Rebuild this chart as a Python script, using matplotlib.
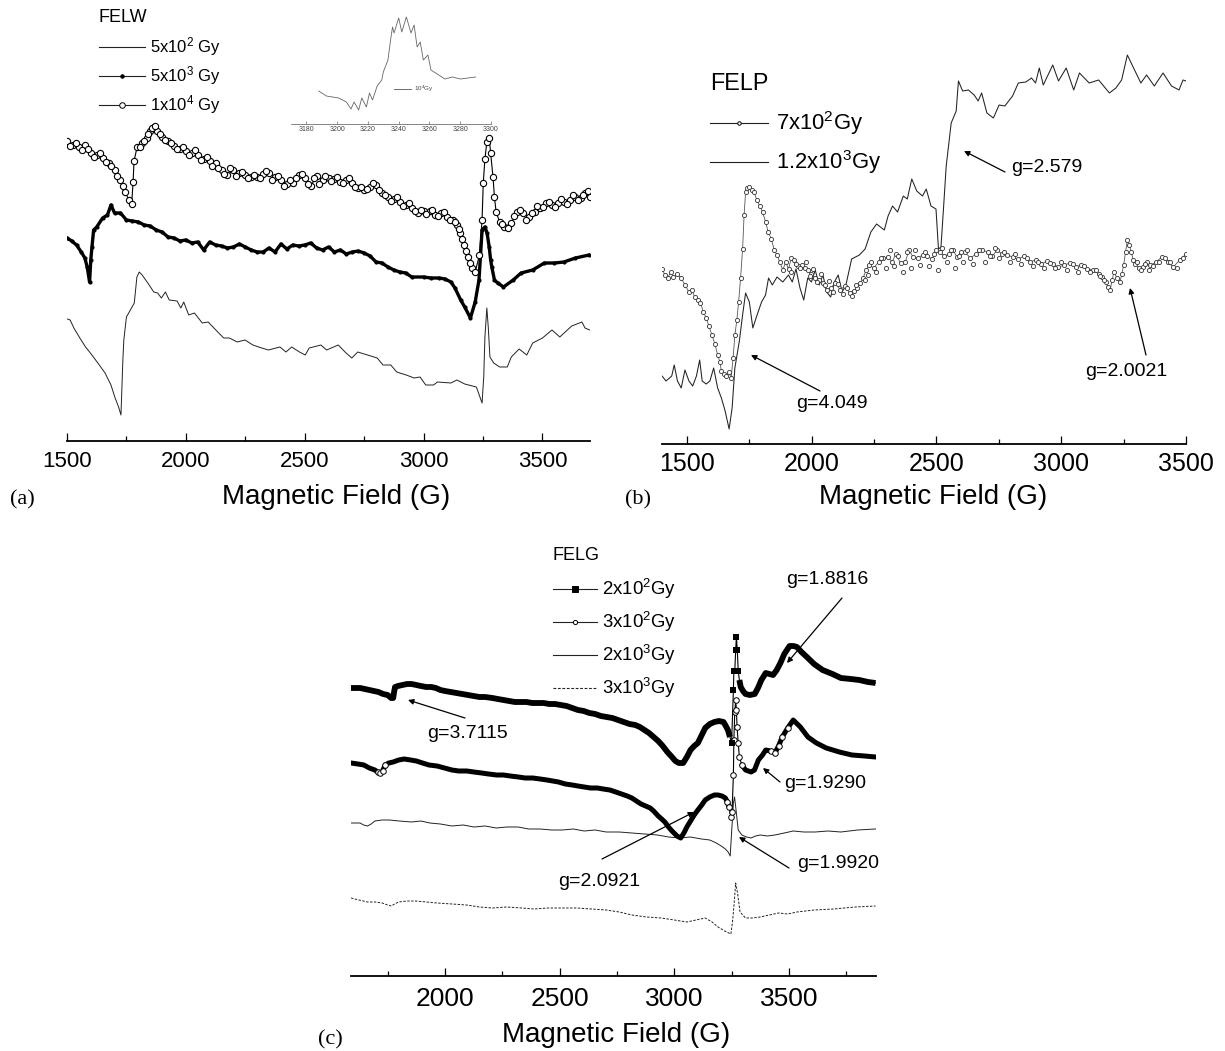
import matplotlib
matplotlib.use('Agg')
import matplotlib.pyplot as plt
from matplotlib.lines import Line2D
from matplotlib.patches import FancyArrowPatch

plt.rcParams['font.family'] = ['Liberation Sans', 'DejaVu Sans']
plt.rcParams['mathtext.default'] = 'regular'

W, H = 1225, 1051

# no intensity axis in the figure: signals are read as rows on the page (larger = lower)

# ---- panel a, FELW
a_f_5e2 = [1502,1513,1529,1554,1578,1595,1611,1636,1660,1685,1701,1717,1727,1735,1739,1750,1783,1794,1804,1816,1840,1865,1881,1897,1914,1930,1963,1979,1991,2012,2036,2069,2094,2126,2159,2183,2216,2249,2282,2306,2347,2396,2421,2445,2478,2502,2519,2568,2592,2641,2674,2698,2723,2764,2805,2829,2862,2887,2927,2960,2985,3009,3042,3058,3115,3140,3173,3222,3246,3253,3258,3266,3272,3279,3295,3320,3352,3369,3402,3434,3459,3500,3540,3573,3623,3666,3679,3699]
a_s_5e2 = [319,320,328,338,347,352,357,365,373,385,397,407,415,360,340,317,303,277,272,275,283,292,293,298,292,300,301,308,302,315,313,323,322,330,338,338,342,340,345,347,350,347,352,347,352,355,348,345,350,345,353,358,352,355,358,365,365,372,375,378,377,385,385,382,383,380,384,387,403,377,337,308,327,357,363,367,367,357,349,355,343,338,330,337,326,322,328,330]

a_f_5e3 = [1500,1520,1540,1560,1575,1585,1595,1600,1605,1612,1625,1650,1670,1685,1700,1725,1750,1775,1800,1825,1850,1875,1900,1925,1950,1975,2000,2025,2050,2075,2100,2125,2150,2175,2200,2225,2250,2275,2300,2325,2350,2375,2400,2425,2450,2475,2500,2525,2550,2575,2600,2625,2650,2675,2700,2725,2750,2775,2800,2825,2850,2875,2900,2925,2950,3001,3030,3066,3090,3115,3132,3156,3173,3197,3217,3233,3246,3258,3267,3276,3282,3287,3298,3312,3336,3377,3410,3459,3508,3550,3590,3639,3696]
a_s_5e3 = [238,241,245,252,258,267,282,260,247,230,227,218,215,205,213,213,220,221,222,225,226,230,232,237,238,241,240,243,242,250,242,245,246,248,247,244,247,250,252,252,248,252,244,249,245,246,245,243,248,250,247,252,250,254,252,251,253,256,262,263,267,270,272,273,277,277,278,278,279,282,288,300,307,318,302,280,230,227,233,247,260,267,280,283,287,280,273,270,263,263,262,258,255]

a_f_1e4 = [1500,1525,1550,1575,1600,1625,1650,1675,1700,1725,1745,1760,1772,1778,1782,1795,1815,1835,1850,1865,1880,1900,1925,1950,1975,2000,2025,2050,2075,2100,2125,2150,2175,2200,2225,2250,2275,2300,2325,2350,2375,2400,2425,2450,2475,2500,2525,2550,2575,2600,2625,2650,2675,2700,2725,2750,2775,2800,2825,2850,2875,2900,2925,2950,2975,3000,3025,3050,3075,3100,3125,3141,3155,3169,3186,3205,3217,3235,3246,3251,3258,3266,3276,3282,3292,3298,3305,3320,3339,3369,3393,3418,3442,3467,3491,3516,3540,3565,3590,3614,3639,3663,3680,3699]
a_s_1e4 = [141,145,147,145,153,155,158,163,170,180,192,200,204,182,161,147,143,138,131,127,131,137,141,146,149,151,153,155,159,161,163,170,175,170,173,175,177,177,174,173,177,180,184,183,175,178,186,176,180,178,179,182,180,183,188,190,187,185,193,197,199,202,205,208,213,211,211,215,213,217,220,225,233,245,257,268,272,255,220,183,159,142,138,153,177,197,212,222,227,223,212,213,217,212,208,203,205,203,202,200,197,198,193,197]

# in-between marks of the same trace, they overlap the rings above
a_f_1e4_extra = [1512,1537,1562,1587,1612,1637,1662,1687,1712,1735,1807,1825,1842,1857,1872,1890,1912,1937,1962,1987,2012,2037,2062,2087,2112,2137,2162,2187,2212,2237,2262,2287,2312,2337,2362,2387,2412,2437,2462,2487,2512,2537,2562,2587,2612,2637,2662,2687,2712,2737,2762,2787,2812,2837,2862,2887,2912,2937,2962,2987,3012,3037,3062,3087,3112,3133,3148,3162,3178,3195,3330,3354,3381,3405,3430,3455,3479,3503,3528,3552,3577,3602,3627,3651,3671,3690]
a_s_1e4_extra = [146,143,150,149,157,153,162,166,176,186,147,141,134,128,126,134,140,143,149,147,155,150,160,157,166,168,174,168,176,172,178,175,178,171,180,176,186,180,178,174,184,178,184,176,181,177,183,178,187,187,189,183,190,195,201,197,206,203,211,210,214,210,216,212,220,222,229,239,251,263,224,228,216,210,220,213,206,207,202,207,199,204,195,200,195,191]

inset_f = [3188,3193,3201,3206,3209,3211,3214,3216,3219,3221,3223,3226,3229,3230,3233,3235,3236,3237,3240,3242,3245,3248,3250,3252,3254,3256,3259,3261,3266,3270,3275,3280,3285,3290]
inset_s = [91,96,98,102,109,102,110,98,107,93,100,86,80,72,60,37,27,33,18,32,17,33,25,47,42,60,55,70,75,79,77,79,78,77]
inset_ticks = [3180,3200,3220,3240,3260,3280,3300]

# ---- panel b, FELP
b_f_12e2 = [1400,1416,1439,1449,1462,1477,1492,1508,1523,1538,1551,1561,1577,1592,1607,1623,1638,1653,1669,1681,1692,1710,1723,1735,1750,1764,1781,1799,1815,1827,1842,1861,1884,1907,1922,1937,1953,1968,1984,1999,2014,2030,2045,2060,2076,2091,2106,2122,2137,2160,2191,2214,2237,2260,2291,2306,2324,2344,2367,2383,2401,2421,2444,2459,2478,2498,2508,2518,2528,2539,2559,2579,2588,2605,2628,2651,2667,2681,2702,2728,2751,2774,2805,2828,2858,2881,2897,2912,2928,2966,2989,3020,3050,3073,3112,3150,3193,3219,3242,3265,3288,3319,3342,3373,3408,3442,3472,3488,3500]
b_s_12e2 = [376,381,376,365,381,388,370,381,386,376,360,381,384,381,368,388,398,411,429,408,368,341,315,293,302,328,315,302,295,278,285,277,282,275,282,269,288,300,278,282,270,285,275,292,297,282,275,292,285,259,255,249,232,224,230,216,206,212,196,199,179,191,196,189,206,209,249,247,209,166,123,111,81,91,90,95,101,93,113,118,105,106,96,83,82,78,83,68,85,65,81,68,90,73,83,80,93,88,80,55,67,83,75,86,73,86,90,80,81]

b_f_7e2 = [1400,1412,1423,1435,1446,1460,1477,1492,1508,1520,1531,1543,1554,1566,1577,1588,1600,1612,1623,1632,1638,1648,1658,1668,1677,1685,1692,1700,1707,1715,1723,1729,1735,1742,1750,1760,1769,1780,1792,1803,1815,1826,1838,1850,1861,1872,1884,1896,1907,1918,1930,1945,1961,1972,1984,1999,2014,2030,2045,2060,2076,2095,2114,2133,2152,2168,2183,2195,2206,2218,2229,2248,2268,2287,2306,2322,2337,2356,2375,2390,2406,2425,2444,2463,2482,2498,2513,2532,2551,2566,2582,2598,2613,2636,2659,2682,2705,2724,2743,2762,2782,2805,2828,2851,2874,2897,2920,2943,2966,2989,3012,3035,3058,3081,3104,3127,3150,3164,3178,3187,3196,3204,3211,3223,3235,3243,3250,3258,3265,3273,3281,3288,3296,3312,3327,3342,3357,3380,3403,3426,3449,3475,3500]
b_s_7e2 = [269,275,278,272,277,274,278,285,292,290,297,300,303,312,318,326,335,344,355,362,371,374,376,372,378,358,335,320,302,278,249,215,192,188,187,190,192,200,206,212,222,232,239,250,255,262,270,262,269,258,260,266,265,268,270,274,278,280,283,290,288,283,290,286,293,291,288,283,278,270,265,268,262,258,257,262,254,263,262,250,257,258,255,256,259,250,252,256,254,250,257,252,252,258,254,250,252,256,250,254,255,257,259,256,262,260,264,261,264,267,265,263,267,265,269,270,274,277,282,287,290,280,272,278,282,274,265,252,240,245,252,260,264,268,267,262,265,262,257,262,267,260,254]

b_f_7e2_extra = [1915,1938,1953,1976,1992,2007,2022,2037,2052,2068,2085,2105,2124,2142,2160,2176,2212,2224,2238,2258,2278,2296,2314,2330,2346,2365,2382,2398,2415,2434,2453,2472,2490,2505,2522,2541,2558,2574,2590,2605,2624,2647,2670,2693,2714,2733,2752,2772,2793,2816,2839,2862,2885,2908,2931,2954,2977,3000,3023,3046,3069,3092,3115,3138,3157,3171,3304,3320,3335,3350,3368,3391,3414,3437,3462,3488]
b_s_7e2_extra = [272,264,268,262,276,269,282,274,285,281,292,284,294,288,296,285,280,275,262,272,258,268,250,266,256,272,252,268,250,265,252,266,254,270,248,262,250,268,256,262,250,264,250,262,256,248,258,252,262,254,264,258,266,262,268,263,268,262,270,264,272,266,272,270,276,280,262,270,264,270,266,262,258,262,268,258]

# ---- panel c, FELG
c_f_2e2 = [1590,1610,1630,1650,1670,1690,1710,1730,1750,1765,1774,1778,1782,1795,1814,1835,1854,1875,1895,1918,1940,1960,1980,2000,2025,2050,2075,2100,2125,2150,2175,2207,2230,2255,2280,2305,2330,2355,2380,2405,2430,2455,2480,2505,2530,2555,2580,2605,2630,2655,2680,2705,2730,2755,2780,2805,2830,2850,2870,2890,2910,2930,2950,2970,2990,3005,3020,3039,3055,3071,3087,3103,3120,3135,3155,3175,3195,3215,3225,3234,3243,3250,3258,3260,3264,3268,3271,3275,3279,3284,3290,3300,3311,3330,3351,3365,3380,3399,3415,3431,3447,3463,3480,3503,3520,3535,3555,3583,3610,3647,3690,3727,3770,3807,3845,3878]
c_s_2e2 = [688,688,688,689,690,691,692,694,695,698,698,692,687,686,685,684,684,685,686,687,687,688,690,691,692,693,694,695,696,697,697,698,699,700,701,702,702,702,703,703,703,704,704,705,706,708,710,711,713,714,716,717,718,720,722,724,725,727,730,733,737,741,746,752,757,761,763,763,757,750,746,743,735,728,724,722,721,722,726,730,737,743,690,671,671,650,637,650,671,680,687,691,694,695,694,688,680,673,674,675,670,663,654,646,646,647,652,658,664,670,674,678,679,680,682,683]

c_f_3e2 = [1590,1620,1646,1670,1694,1706,1718,1728,1739,1755,1774,1798,1822,1850,1875,1902,1930,1965,1998,2030,2060,2095,2126,2160,2190,2225,2255,2285,2320,2350,2383,2415,2445,2470,2495,2525,2555,2580,2607,2635,2665,2690,2719,2745,2770,2795,2815,2835,2855,2875,2895,2910,2930,2945,2959,2975,2990,2999,3012,3028,3042,3055,3071,3087,3103,3120,3135,3155,3175,3191,3208,3223,3232,3239,3247,3252,3258,3260,3264,3268,3271,3274,3279,3284,3295,3311,3335,3350,3367,3385,3399,3420,3439,3455,3471,3495,3519,3550,3583,3620,3663,3720,3775,3830,3878]
c_s_3e2 = [763,764,765,768,770,772,773,771,765,763,762,760,759,760,761,763,765,766,768,770,771,771,772,773,774,775,775,776,777,778,778,779,780,781,782,784,785,786,787,788,788,789,790,792,794,796,798,801,804,806,808,811,816,819,822,827,831,833,836,838,833,827,821,815,810,805,800,797,795,795,796,798,802,807,817,812,775,740,712,700,710,727,743,757,765,770,772,770,760,755,750,751,753,746,737,728,720,727,737,743,748,752,755,756,757]

c_f_2e3 = [1590,1610,1630,1645,1662,1678,1694,1725,1758,1800,1854,1895,1934,1980,2030,2080,2126,2175,2223,2270,2319,2365,2415,2465,2511,2560,2607,2655,2703,2760,2815,2870,2927,2975,3023,3070,3119,3155,3183,3205,3223,3235,3244,3250,3258,3263,3271,3279,3295,3315,3335,3355,3375,3405,3439,3480,3519,3565,3615,3670,3727,3800,3878]
c_s_2e3 = [823,823,823,825,826,824,821,820,820,821,822,821,823,824,826,825,827,826,828,827,827,829,829,830,830,829,831,830,832,832,833,834,835,837,838,837,839,840,843,846,849,852,856,833,803,797,813,830,835,837,838,836,835,836,835,833,831,832,832,831,832,830,829]

c_f_3e3 = [1590,1625,1662,1695,1726,1750,1766,1780,1798,1835,1870,1920,1966,2030,2094,2150,2207,2270,2335,2390,2447,2510,2575,2640,2703,2760,2815,2880,2943,3000,3055,3095,3135,3165,3191,3220,3247,3254,3260,3268,3276,3287,3311,3340,3375,3415,3455,3495,3535,3610,3695,3790,3878]
c_s_3e3 = [898,900,902,902,903,905,906,904,902,901,901,902,903,904,905,907,908,907,908,909,908,908,908,909,910,912,915,917,918,920,922,920,918,922,927,931,934,922,907,883,893,912,918,918,917,915,913,914,912,910,909,907,906]

# legend labels
a_legend = [r'5x10$^{2}$ Gy', r'5x10$^{3}$ Gy', r'1x10$^{4}$ Gy']
b_legend = [r'7x10$^{2}$Gy', r'1.2x10$^{3}$Gy']
c_legend = [r'2x10$^{2}$Gy', r'3x10$^{2}$Gy', r'2x10$^{3}$Gy', r'3x10$^{3}$Gy']


def fx(x):
    return x / W


def fy(y):
    return 1 - y / H


def panel(fig, l, r, t, b, xlim, xmajor, xminor, ticksize, pad):
    ax = fig.add_axes([fx(l), fy(b), (r - l) / W, (b - t) / H])
    ax.set_xlim(*xlim)
    ax.set_ylim(b, t)
    ax.patch.set_alpha(0)
    for s in ['top', 'left', 'right']:
        ax.spines[s].set_visible(False)
    ax.spines['bottom'].set_linewidth(1.3)
    ax.set_yticks([])
    ax.set_xticks(xmajor)
    ax.set_xticks(xminor, minor=True)
    ax.tick_params(axis='x', which='major', direction='in', length=6, width=0.9, labelsize=ticksize, pad=pad)
    ax.tick_params(axis='x', which='minor', direction='in', length=3.5, width=0.9)
    return ax


def field_label(ax, l, r, t, b, x, y):
    ax.set_xlabel('Magnetic Field (G)', fontsize=20)
    ax.xaxis.set_label_coords((x - l) / (r - l), -(y - b) / (b - t), transform=ax.transAxes)
    ax.xaxis.label.set_va('center')


def legend_row(fig, x0, x1, xt, y, label, size, **kw):
    xm = (x0 + x1) / 2
    fig.add_artist(Line2D([fx(x0), fx(x1)], [fy(y), fy(y)], color='#222222', lw=0.8, ls=kw.get('ls', '-')))
    if 'marker' in kw:
        fig.add_artist(Line2D([fx(xm)], [fy(y)], color='black', marker=kw['marker'], ms=kw.get('ms', 4),
                              mfc=kw.get('mfc', 'white'), mec='black', mew=0.7))
    fig.text(fx(xt), fy(y), label, fontsize=size, va='center', ha='left')


def note(fig, text, xy_text, tail, tip, size=14):
    fig.text(fx(xy_text[0]), fy(xy_text[1]), text, fontsize=size, ha='center', va='center')
    fig.add_artist(FancyArrowPatch(
        (fx(tail[0]), fy(tail[1])), (fx(tip[0]), fy(tip[1])), transform=fig.transFigure,
        arrowstyle='-|>', mutation_scale=8, lw=0.9, color='black', shrinkA=0, shrinkB=0))


def pick(xs, ys, keep):
    pts = [(x, y) for x, y in zip(xs, ys) if keep(x)]
    return [p[0] for p in pts], [p[1] for p in pts]


fig = plt.figure(figsize=(W / 100, H / 100), dpi=100)

# panel a
ax_a = panel(fig, 67, 590, 120, 441, (1500, 3700), [1500, 2000, 2500, 3000, 3500], [1750, 2250, 2750, 3250], 16, 7.5)
ax_a.plot(a_f_5e2, a_s_5e2, color='#222222', lw=0.7)
ax_a.plot(a_f_5e3, a_s_5e3, color='black', lw=2.4, marker='o', ms=3, mew=0)
ax_a.plot(a_f_1e4, a_s_1e4, color='black', lw=0.8, marker='o', ms=4.5, mfc='white', mec='black', mew=0.8)
ax_a.plot(a_f_1e4_extra, a_s_1e4_extra, ls='none', marker='o', ms=4.5, mfc='white', mec='black', mew=0.8)
field_label(ax_a, 67, 590, 120, 441, 336, 497)

fig.text(fx(99), fy(17), 'FELW', fontsize=13, va='center')
legend_row(fig, 99, 145, 150, 47, a_legend[0], 12)
legend_row(fig, 99, 145, 150, 76, a_legend[1], 12, marker='o', ms=2.5, mfc='black')
legend_row(fig, 99, 145, 150, 105, a_legend[2], 12, marker='o', ms=4)
fig.text(fx(22), fy(500), '(a)', fontsize=16, family='Liberation Serif', ha='center', va='center')

# inset in panel a
ax_i = fig.add_axes([fx(291), fy(124), 200 / W, 120 / H])
ax_i.set_xlim(3170, 3299)
ax_i.set_ylim(124, 4)
ax_i.patch.set_alpha(0)
for s in ['top', 'left', 'right']:
    ax_i.spines[s].set_visible(False)
ax_i.spines['bottom'].set_linewidth(0.5)
ax_i.spines['bottom'].set_color('#555555')
ax_i.plot(inset_f, inset_s, color='#666666', lw=0.6)
ax_i.set_yticks([])
ax_i.set_xticks(inset_ticks)
ax_i.tick_params(axis='x', direction='in', length=2, width=0.4, labelsize=5, pad=1.5, colors='#444444')
fig.add_artist(Line2D([fx(394), fx(411)], [fy(89), fy(89)], color='#555555', lw=0.6))
fig.text(fx(414), fy(89), r'10$^{4}$Gy', fontsize=4.5, va='center', color='#444444')

# panel b
ax_b = panel(fig, 662, 1186, 50, 444, (1400, 3500), [1500, 2000, 2500, 3000, 3500], [1750, 2250, 2750, 3250], 18, 6)
ax_b.plot(b_f_12e2, b_s_12e2, color='#222222', lw=0.75)
ax_b.plot(b_f_7e2, b_s_7e2, color='#555555', lw=0.6, marker='o', ms=3, mfc='white', mec='#333333', mew=0.6)
ax_b.plot(b_f_7e2_extra, b_s_7e2_extra, ls='none', marker='o', ms=3, mfc='white', mec='#333333', mew=0.6)
field_label(ax_b, 662, 1186, 50, 444, 933, 497)

fig.text(fx(710), fy(84), 'FELP', fontsize=16.8, va='center')
legend_row(fig, 710, 768, 776, 123, b_legend[0], 15.8, marker='o', ms=2.5)
legend_row(fig, 710, 768, 776, 162, b_legend[1], 15.8)
fig.text(fx(638), fy(500), '(b)', fontsize=16, family='Liberation Serif', ha='center', va='center')
note(fig, 'g=2.579', (1047, 168), (1005, 172), (964, 151))
note(fig, 'g=4.049', (832, 403), (820, 391), (751, 355))
note(fig, 'g=2.0021', (1126, 371), (1146, 355), (1130, 288))

# panel c
ax_c = panel(fig, 351, 876, 620, 976, (1590, 3880), [2000, 2500, 3000, 3500], [1750, 2250, 2750, 3250, 3750], 19, 8)
ax_c.plot(c_f_3e3, c_s_3e3, color='#222222', lw=0.7, ls=(0, (2.5, 1.5)))
ax_c.plot(c_f_2e3, c_s_2e3, color='#222222', lw=0.7)
# circle trace: overlapping marks read as a thick band away from the spike
ax_c.plot(c_f_3e2, c_s_3e2, color='black', lw=0.8)
for keep in (lambda f: f < 3247, lambda f: f > 3284):
    xs, ys = pick(c_f_3e2, c_s_3e2, keep)
    ax_c.plot(xs, ys, color='black', lw=3.6, solid_capstyle='round')
xs, ys = pick(c_f_3e2, c_s_3e2, lambda f: 1700 < f < 1745 or 3225 < f < 3300 or 3400 < f < 3510)
ax_c.plot(xs, ys, ls='none', marker='o', ms=4, mfc='white', mec='black', mew=0.7)
# square trace
ax_c.plot(c_f_2e2, c_s_2e2, color='black', lw=0.8)
for keep in (lambda f: f < 3250, lambda f: f > 3282):
    xs, ys = pick(c_f_2e2, c_s_2e2, keep)
    ax_c.plot(xs, ys, color='black', lw=4.2, solid_capstyle='butt')
xs, ys = pick(c_f_2e2, c_s_2e2, lambda f: 3250 <= f <= 3282)
ax_c.plot(xs, ys, ls='none', marker='s', ms=4.2, color='black', mew=0)
field_label(ax_c, 351, 876, 620, 976, 616, 1035)

fig.text(fx(553), fy(555), 'FELG', fontsize=13, va='center')
legend_row(fig, 553, 597, 602, 589, c_legend[0], 13.4, marker='s', ms=4, mfc='black')
legend_row(fig, 553, 597, 602, 622, c_legend[1], 13.4, marker='o', ms=3)
legend_row(fig, 553, 597, 602, 655, c_legend[2], 13.4)
legend_row(fig, 553, 597, 602, 688, c_legend[3], 13.4, ls=(0, (2.5, 1.5)))
fig.text(fx(330), fy(1040), '(c)', fontsize=16, family='Liberation Serif', ha='center', va='center')
note(fig, 'g=1.8816', (827, 580), (842, 598), (787, 663))
note(fig, 'g=3.7115', (468, 733), (465, 718), (408, 700))
note(fig, 'g=1.9290', (825, 783), (780, 782), (763, 768))
note(fig, 'g=2.0921', (599, 881), (602, 859), (694, 812))
note(fig, 'g=1.9920', (838, 863), (789, 868), (739, 837))

fig.savefig('out.png', dpi=100)
